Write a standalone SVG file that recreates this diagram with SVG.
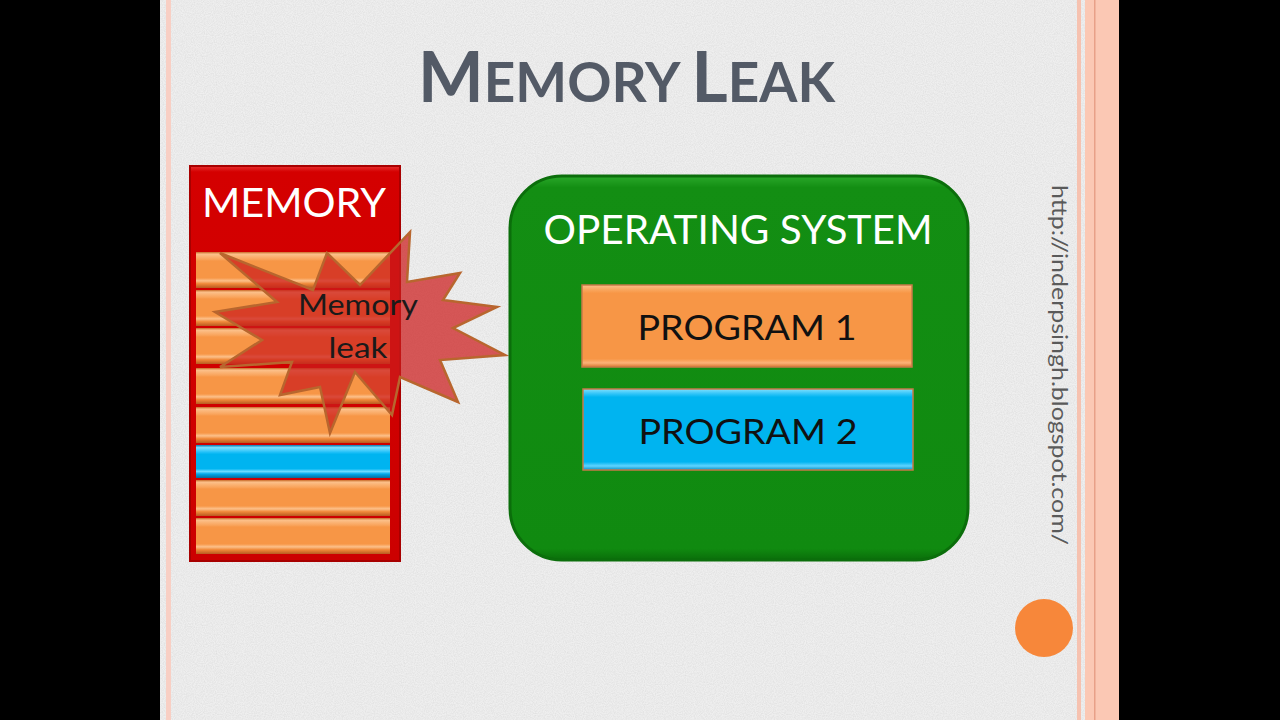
<svg xmlns="http://www.w3.org/2000/svg" width="1280" height="720" viewBox="0 0 1280 720">
<style>
.sans{font-family:Lato,"Open Sans","Liberation Sans",sans-serif}
.white{fill:#ffffff}
.dark{fill:#111111}
</style>
<defs>
<filter id="noise" x="0" y="0" width="100%" height="100%">
<feTurbulence type="fractalNoise" baseFrequency="0.9" numOctaves="2" seed="3" result="t"/>
<feColorMatrix in="t" type="matrix" values="0 0 0 0 0.55  0 0 0 0 0.55  0 0 0 0 0.55  0 0 0 1.2 -0.35"/>
</filter>
<linearGradient id="barOrange" x1="0" y1="0" x2="0" y2="1">
<stop offset="0" stop-color="#c86a28"/>
<stop offset="0.06" stop-color="#fcc08a"/>
<stop offset="0.2" stop-color="#f9a45c"/>
<stop offset="0.25" stop-color="#f79646"/>
<stop offset="0.72" stop-color="#f79646"/>
<stop offset="0.8" stop-color="#fcc08a"/>
<stop offset="0.88" stop-color="#f08a3a"/>
<stop offset="1" stop-color="#b85a20"/>
</linearGradient>
<linearGradient id="barBlue" x1="0" y1="0" x2="0" y2="1">
<stop offset="0" stop-color="#0a7ab0"/>
<stop offset="0.08" stop-color="#7fe0ff"/>
<stop offset="0.22" stop-color="#20c0f8"/>
<stop offset="0.28" stop-color="#00b4f0"/>
<stop offset="0.72" stop-color="#00b4f0"/>
<stop offset="0.8" stop-color="#70dcff"/>
<stop offset="0.88" stop-color="#00a8e8"/>
<stop offset="1" stop-color="#0a6a9a"/>
</linearGradient>
<linearGradient id="progOrange" x1="0" y1="0" x2="0" y2="1">
<stop offset="0" stop-color="#fcbf8a"/>
<stop offset="0.06" stop-color="#f9a55c"/>
<stop offset="0.1" stop-color="#f79646"/>
<stop offset="0.9" stop-color="#f79646"/>
<stop offset="0.95" stop-color="#fbb278"/>
<stop offset="1" stop-color="#d87830"/>
</linearGradient>
<linearGradient id="progBlue" x1="0" y1="0" x2="0" y2="1">
<stop offset="0" stop-color="#80e0ff"/>
<stop offset="0.06" stop-color="#30c4f8"/>
<stop offset="0.1" stop-color="#00b4f0"/>
<stop offset="0.9" stop-color="#00b4f0"/>
<stop offset="0.95" stop-color="#60d4ff"/>
<stop offset="1" stop-color="#0890c8"/>
</linearGradient>
<linearGradient id="red" x1="0" y1="0" x2="0" y2="1">
<stop offset="0" stop-color="#e83030"/>
<stop offset="0.015" stop-color="#d40000"/>
<stop offset="1" stop-color="#cc0000"/>
</linearGradient>
<linearGradient id="green" x1="0" y1="0" x2="0" y2="1">
<stop offset="0" stop-color="#2aa82a"/>
<stop offset="0.03" stop-color="#138e13"/>
<stop offset="0.97" stop-color="#108a10"/>
<stop offset="1" stop-color="#0a6e0a"/>
</linearGradient>
<g id="bar"><rect x="0" y="0" width="194" height="36" fill="url(#barOrange)"/></g>
</defs>

<!-- page -->
<rect x="0" y="0" width="1280" height="720" fill="#000000"/>
<rect x="160" y="0" width="959" height="720" fill="#efefef"/>
<rect x="160" y="0" width="959" height="720" filter="url(#noise)" opacity="0.45"/>
<rect x="166" y="0" width="5" height="720" fill="#f8cfc4"/>
<rect x="1077" y="0" width="4" height="720" fill="#f6c2b0"/>
<rect x="1085" y="0" width="34" height="720" fill="#fbc8b4"/>
<rect x="1094" y="0" width="1.5" height="720" fill="#e8a088"/>

<g id="title">
<text class="sans" x="418" y="102" font-weight="700" fill="#535a66" textLength="417" lengthAdjust="spacingAndGlyphs"><tspan font-size="71">M</tspan><tspan font-size="56">EMORY </tspan><tspan font-size="71">L</tspan><tspan font-size="56">EAK</tspan></text>
</g>

<g id="memory">
<rect x="190" y="166" width="210" height="395" fill="url(#red)" stroke="#a80000" stroke-width="2"/>
<text class="sans white" x="294" y="217" font-size="40" text-anchor="middle" textLength="184" lengthAdjust="spacingAndGlyphs">MEMORY</text>
<use href="#bar" x="196" y="252"/>
<use href="#bar" x="196" y="290"/>
<use href="#bar" x="196" y="328"/>
<use href="#bar" x="196" y="368"/>
<use href="#bar" x="196" y="407"/>
<rect x="196" y="445" width="194" height="33" fill="url(#barBlue)"/>
<use href="#bar" x="196" y="480"/>
<use href="#bar" x="196" y="518"/>
</g>

<g id="memory-leak">
<polygon points="410,232 360,285 327,253 313,290 220,253 277,302 215,312 262,340 220,367 292,362 280,395 320,387 330,433 355,372 392,415 400,377 458,402 440,360 505,355 453,328 497,307 443,300 460,273 407,282" fill="#cc1c1c" fill-opacity="0.72" stroke="#b8662e" stroke-width="2.5" stroke-linejoin="miter"/>
<text class="sans" x="358" y="315" font-size="28" fill="#1a1a1a" text-anchor="middle" textLength="120" lengthAdjust="spacingAndGlyphs">Memory</text>
<text class="sans" x="358" y="358" font-size="28" fill="#1a1a1a" text-anchor="middle" textLength="59" lengthAdjust="spacingAndGlyphs">leak</text>
</g>

<g id="operating-system">
<rect x="510" y="176" width="458" height="384" rx="52" ry="52" fill="url(#green)" stroke="#0b6e0b" stroke-width="3"/>
<text class="sans white" x="738" y="244" font-size="41" text-anchor="middle" textLength="389" lengthAdjust="spacingAndGlyphs">OPERATING SYSTEM</text>
</g>

<g id="program-1">
<rect x="582" y="285" width="330" height="82" fill="url(#progOrange)" stroke="#c87a48" stroke-width="1.5"/>
<text class="sans dark" x="747" y="340" font-size="35" text-anchor="middle" textLength="219" lengthAdjust="spacingAndGlyphs">PROGRAM 1</text>
</g>

<g id="program-2">
<rect x="583" y="389" width="330" height="81" fill="url(#progBlue)" stroke="#c87a48" stroke-width="1.5"/>
<text class="sans dark" x="748" y="444" font-size="35" text-anchor="middle" textLength="219" lengthAdjust="spacingAndGlyphs">PROGRAM 2</text>
</g>

<g id="connectors"></g>

<g id="url">
<text class="sans" transform="translate(1052,185) rotate(90)" x="0" y="0" font-size="22" fill="#5a5a5a" textLength="360" lengthAdjust="spacingAndGlyphs">http://inderpsingh.blogspot.com/</text>
</g>

<g id="dot">
<circle cx="1044" cy="628" r="29" fill="#f7873a"/>
</g>
</svg>
